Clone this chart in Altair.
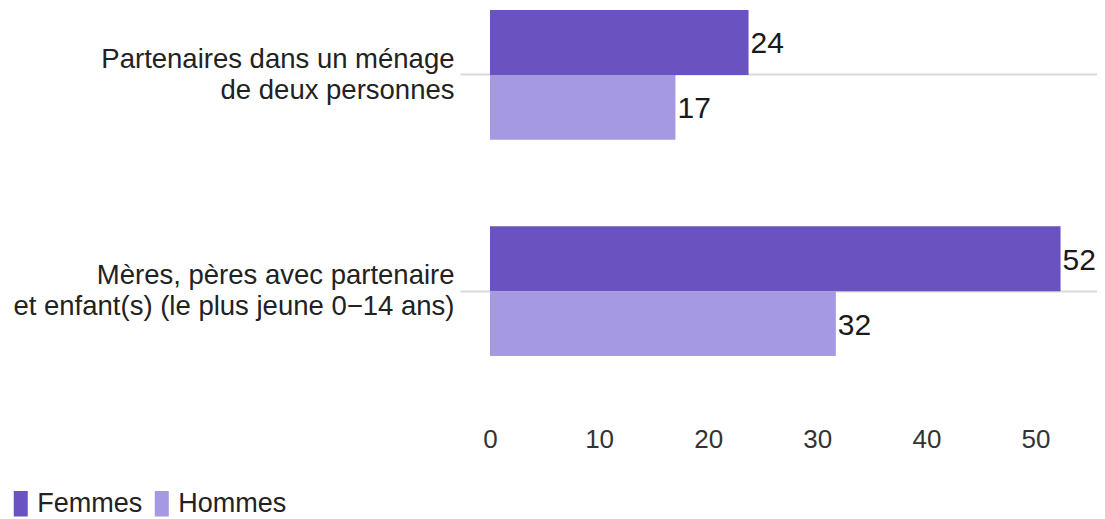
import altair as alt
import pandas as pd

categories = [
    "Partenaires dans un ménage|de deux personnes",
    "Mères, pères avec partenaire|et enfant(s) (le plus jeune 0−14 ans)",
]
series = ["Femmes", "Hommes"]
femmes = [23.7, 52.3]
hommes = [17.0, 31.7]
tick_values = [0, 10, 20, 30, 40, 50]
colors = ["#6a52c0", "#a599e3"]

rows = []
for c, f, h in zip(categories, femmes, hommes):
    rows.append({"cat": c, "sex": "Femmes", "value": f})
    rows.append({"cat": c, "sex": "Hommes", "value": h})
df = pd.DataFrame(rows)

FONT = "Liberation Sans"

base = alt.Chart(df).encode(
    y=alt.Y(
        "cat:N",
        sort=categories,
        scale=alt.Scale(paddingInner=0.4, paddingOuter=0),
        axis=alt.Axis(
            title=None,
            labelExpr="split(datum.label, '|')",
            labelFontSize=27.5,
            labelFont=FONT,
            labelColor="#222222",
            labelPadding=6,
            labelLineHeight=31,
            labelOffset=-15,
            labelLimit=0,
            tickSize=30,
            tickColor="#d9d9d9",
            tickWidth=2,
            domain=False,
            grid=True,
            gridColor="#d9d9d9",
            gridWidth=2,
            bandPosition=0.5,
        ),
    ),
    yOffset=alt.YOffset(
        "sex:N", sort=series, scale=alt.Scale(paddingInner=0, paddingOuter=0)
    ),
    x=alt.X(
        "value:Q",
        scale=alt.Scale(domain=[0, 55.64], nice=False),
        axis=alt.Axis(
            title=None,
            values=tick_values,
            grid=False,
            domain=False,
            ticks=False,
            labelFlush=False,
            labelPadding=70,
            labelFontSize=26,
            labelFont=FONT,
            labelColor="#333333",
        ),
    ),
)

bars = base.mark_bar().encode(
    color=alt.Color(
        "sex:N",
        sort=series,
        scale=alt.Scale(domain=series, range=colors),
        legend=alt.Legend(
            title=None,
            orient="none",
            legendX=-482.75,
            legendY=480,
            direction="horizontal",
            symbolType="M-0.55,-1H0.55V1H-0.55Z",
            symbolSize=650,
            symbolStrokeWidth=0,
            symbolOpacity=1,
            labelFontSize=27,
            labelFont=FONT,
            labelColor="#222222",
            labelOffset=3,
            columnPadding=5,
            labelLimit=0,
        ),
    )
)

text = base.mark_text(
    align="left", baseline="middle", dx=2, dy=2, fontSize=30, font=FONT, color="#1a1a1a"
).encode(text=alt.Text("value:Q", format=".0f"))

chart = (
    (bars + text)
    .properties(
        width=607,
        height=346,
        autosize=alt.AutoSizeParams(type="none"),
        padding={"left": 482, "top": 2, "right": 0, "bottom": 170},
    )
    .configure_view(stroke=None)
)

chart.save("out.html", embed_options={"renderer": "svg", "actions": False})
